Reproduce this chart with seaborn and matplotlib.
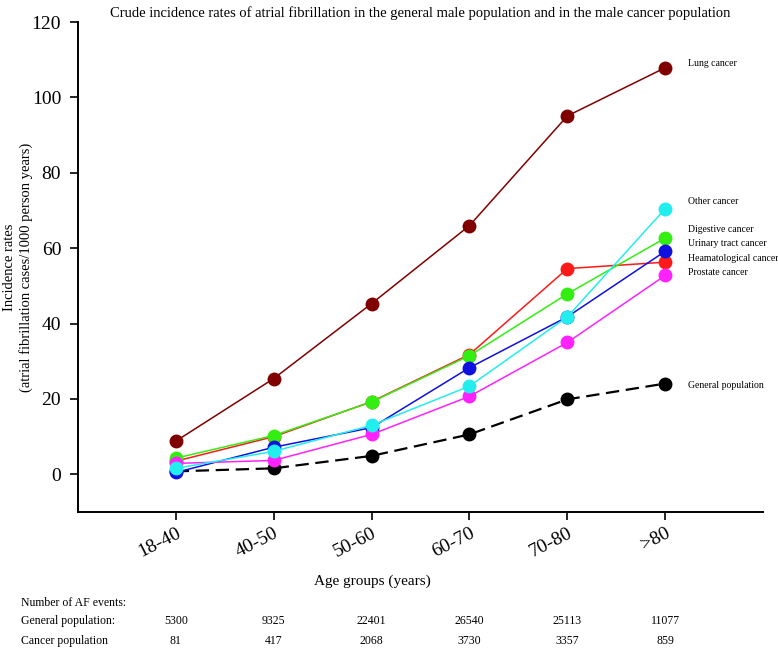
import matplotlib

matplotlib.use("Agg")
import matplotlib.pyplot as plt
import matplotlib.transforms as mtransforms
import pandas as pd
import seaborn as sns

age_groups = ["18-40", "40-50", "50-60", "60-70", "70-80", ">80"]

series_names = [
    "General population",
    "Lung cancer",
    "Heamatological cancer",
    "Digestive cancer",
    "Urinary tract cancer",
    "Prostate cancer",
    "Other cancer",
]
general_rates = [0.8, 1.6, 4.9, 10.6, 19.9, 24.1]
lung_rates = [8.8, 25.4, 45.3, 66.0, 95.1, 107.9]
heamatological_rates = [3.5, 10.0, 19.3, 31.8, 54.6, 56.3]
digestive_rates = [4.3, 10.3, 19.2, 31.5, 47.9, 62.7]
urinary_rates = [0.5, 7.2, 12.4, 28.3, 41.8, 59.2]
prostate_rates = [2.9, 3.7, 10.6, 20.7, 35.0, 52.8]
other_rates = [1.6, 6.1, 13.0, 23.4, 41.8, 70.5]

series_colors = ["#000000", "#800000", "#ff1a1a", "#33ee11", "#1010e0", "#ff22ff", "#22eeee"]

# label positions on the right (data y)
label_y = [23.6, 108.9, 57.2, 64.9, 61.2, 53.5, 72.3]

events_general = ["5300", "9325", "22401", "26540", "25113", "11077"]
events_cancer = ["81", "417", "2068", "3730", "3357", "859"]

all_rates = [
    general_rates,
    lung_rates,
    heamatological_rates,
    digestive_rates,
    urinary_rates,
    prostate_rates,
    other_rates,
]
rows = []
for name, rates in zip(series_names, all_rates):
    for pos, (grp, val) in enumerate(zip(age_groups, rates)):
        rows.append({"series": name, "pos": pos, "age": grp, "rate": val})
df = pd.DataFrame(rows)

sns.set_style("ticks")
plt.rcParams["font.family"] = ["Liberation Serif", "DejaVu Serif"]
for key in ["text.color", "axes.labelcolor", "xtick.color", "ytick.color", "axes.edgecolor"]:
    plt.rcParams[key] = "black"

fig = plt.figure(figsize=(7.78, 6.49), dpi=100)
ax = fig.add_axes([0.100, 0.211, 0.881, 0.755])

dash_map = {name: (1, 0) for name in series_names}
dash_map["General population"] = (6, 3)
size_map = {name: 1.1 for name in series_names}
size_map["General population"] = 1.6

sns.lineplot(
    data=df,
    x="pos",
    y="rate",
    hue="series",
    hue_order=series_names,
    palette=series_colors,
    style="series",
    style_order=series_names,
    dashes=dash_map,
    size="series",
    size_order=series_names,
    sizes=size_map,
    marker="o",
    markersize=10,
    markeredgewidth=0,
    legend=False,
    ax=ax,
)

for name, ly in zip(series_names, label_y):
    ax.text(5.23, ly, name, fontsize=7, va="center", ha="left")

ax.set_xlim(-1, 6)
ax.set_ylim(-10, 120)
ax.set_yticks([0, 20, 40, 60, 80, 100, 120])
ax.set_xticks(range(len(age_groups)))
ax.set_xticklabels(age_groups, rotation=27, ha="right", rotation_mode="anchor")
ax.tick_params(axis="both", labelsize=14, length=6, width=1.2, direction="out", pad=6)
ax.tick_params(axis="x", pad=3)
ax.set_xlabel("")
ax.set_ylabel(
    "Incidence rates\n(atrial fibrillation cases/1000 person years)",
    fontsize=10.5,
    linespacing=1.2,
)
ax.yaxis.set_label_coords(-0.066, 0.5)
for side in ["left", "bottom"]:
    ax.spines[side].set_linewidth(1.4)
sns.despine(ax=ax)

ax.set_title(
    "Crude incidence rates of atrial fibrillation in the general male population and in the male cancer population",
    fontsize=10.5,
    pad=4,
)

# bottom table of AF events
trans = mtransforms.blended_transform_factory(ax.transData, fig.transFigure)
fig.text(0.478, 0.104, "Age groups (years)", fontsize=11, ha="center", va="center")
fig.text(0.027, 0.071, "Number of AF events:", fontsize=8.5, ha="left", va="center")
fig.text(0.027, 0.043, "General population:", fontsize=8.5, ha="left", va="center")
fig.text(0.027, 0.012, "Cancer population", fontsize=8.5, ha="left", va="center")
for pos, (g, c) in enumerate(zip(events_general, events_cancer)):
    ax.text(pos, 0.043, g, transform=trans, fontsize=8.5, ha="center", va="center")
    ax.text(pos, 0.012, c, transform=trans, fontsize=8.5, ha="center", va="center")

fig.savefig("out.png", dpi=100)
